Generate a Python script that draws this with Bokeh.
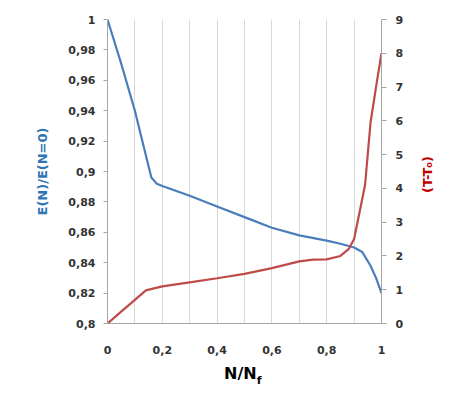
from bokeh.plotting import figure
from bokeh.models import Range1d, LinearAxis, FixedTicker, CustomJSTickFormatter, Div, Spacer
from bokeh.layouts import column, row
from bokeh.embed import file_html
from bokeh.resources import INLINE

# ---- data ----
n_blue = [0, 0.05, 0.1, 0.13, 0.16, 0.18, 0.2, 0.3, 0.4, 0.5, 0.6, 0.7, 0.8, 0.85, 0.9, 0.93, 0.96, 0.98, 1.0]
e_ratio = [1.0, 0.971, 0.94, 0.918, 0.896, 0.892, 0.8905, 0.884, 0.877, 0.870, 0.863, 0.858, 0.8545, 0.8525, 0.850, 0.847, 0.838, 0.830, 0.820]

n_red = [0, 0.05, 0.1, 0.14, 0.2, 0.3, 0.4, 0.5, 0.6, 0.7, 0.75, 0.8, 0.85, 0.88, 0.9, 0.92, 0.94, 0.96, 0.98, 1.0]
delta_t = [0, 0.35, 0.7, 0.98, 1.1, 1.22, 1.34, 1.47, 1.64, 1.84, 1.89, 1.9, 2.0, 2.2, 2.5, 3.3, 4.1, 5.95, 7.0, 8.0]

x_ticks = [0, 0.2, 0.4, 0.6, 0.8, 1.0]
x_grid = [0, 0.1, 0.2, 0.3, 0.4, 0.5, 0.6, 0.7, 0.8, 0.9, 1.0]
left_ticks = [0.8, 0.82, 0.84, 0.86, 0.88, 0.9, 0.92, 0.94, 0.96, 0.98, 1.0]
right_ticks = [0, 1, 2, 3, 4, 5, 6, 7, 8, 9]

BLUE = "#4a7ebb"
RED = "#be4b48"
BLUE_T = "#2e75b6"
RED_T = "#c00000"
FONT = "DejaVu Sans"

p = figure(frame_width=274, frame_height=304,
           min_border_left=107, min_border_right=30, min_border_top=19, min_border_bottom=41,
           x_range=Range1d(0, 1), y_range=Range1d(0.8, 1.0),
           output_backend="svg", toolbar_location=None)
p.extra_y_ranges = {"dt": Range1d(0, 9)}
p.outline_line_color = None
p.background_fill_color = "white"
p.border_fill_color = "white"

fmt = CustomJSTickFormatter(code="""
var s = (Math.round(tick*100)/100).toString();
return s.replace('.', ',');
""")

# grid
p.ygrid.grid_line_color = None
p.xgrid.ticker = FixedTicker(ticks=x_grid)
p.xgrid.grid_line_color = "#d9d9d9"
p.xgrid.grid_line_width = 1


def style_labels(ax):
    ax.major_label_text_font = FONT
    ax.major_label_text_font_style = "bold"
    ax.major_label_text_font_size = "11px"
    ax.major_label_text_color = "#333333"
    ax.axis_line_color = "#a6a6a6"
    ax.minor_tick_line_color = None
    ax.axis_label_text_font = FONT
    ax.axis_label_text_font_style = "bold"


# x axis
xa = p.xaxis[0]
xa.ticker = FixedTicker(ticks=x_ticks)
xa.formatter = fmt
style_labels(xa)
xa.major_tick_line_color = None
xa.major_label_standoff = 16

# left axis
ya = p.yaxis[0]
ya.ticker = FixedTicker(ticks=left_ticks)
ya.formatter = fmt
style_labels(ya)
ya.major_tick_line_color = "#a6a6a6"
ya.major_tick_out = 4
ya.major_tick_in = 0
ya.major_label_standoff = 8
ya.axis_label = "E(N)/E(N=0)"
ya.axis_label_text_font_size = "13px"
ya.axis_label_text_color = BLUE_T
ya.axis_label_standoff = 15

# right axis (ticks and numbers)
ra = LinearAxis(y_range_name="dt", ticker=FixedTicker(ticks=right_ticks), formatter=fmt)
style_labels(ra)
ra.major_tick_line_color = "#a6a6a6"
ra.major_tick_out = 5
ra.major_tick_in = 0
ra.major_label_standoff = 9
p.add_layout(ra, "right")

# lines
p.line(n_blue, e_ratio, line_color=BLUE, line_width=2.2)
p.line(n_red, delta_t, line_color=RED, line_width=2.2, y_range_name="dt")

# x-axis title with a real subscript
title_x = Div(text='N/N<span style="font-size:11px; position:relative; top:5px;">f</span>',
              width=411, height=30,
              styles={"font-family": FONT, "font-weight": "bold", "font-size": "16px",
                      "color": "#000000", "padding-left": "224px", "margin": "0px",
                      "line-height": "normal"})

# right-axis title, reading bottom to top
title_r = Div(text="(T-T\u2080)", width=17, height=350,
              styles={"font-family": FONT, "font-weight": "bold", "font-size": "13px",
                      "color": RED_T, "writing-mode": "vertical-rl",
                      "transform": "rotate(180deg)", "text-align": "center",
                      "line-height": "17px", "margin": "0px"})

layout = row(column(p, title_x, spacing=0), Spacer(width=8, height=10), title_r, spacing=0)

open("out.html", "w").write(file_html(layout, INLINE))
